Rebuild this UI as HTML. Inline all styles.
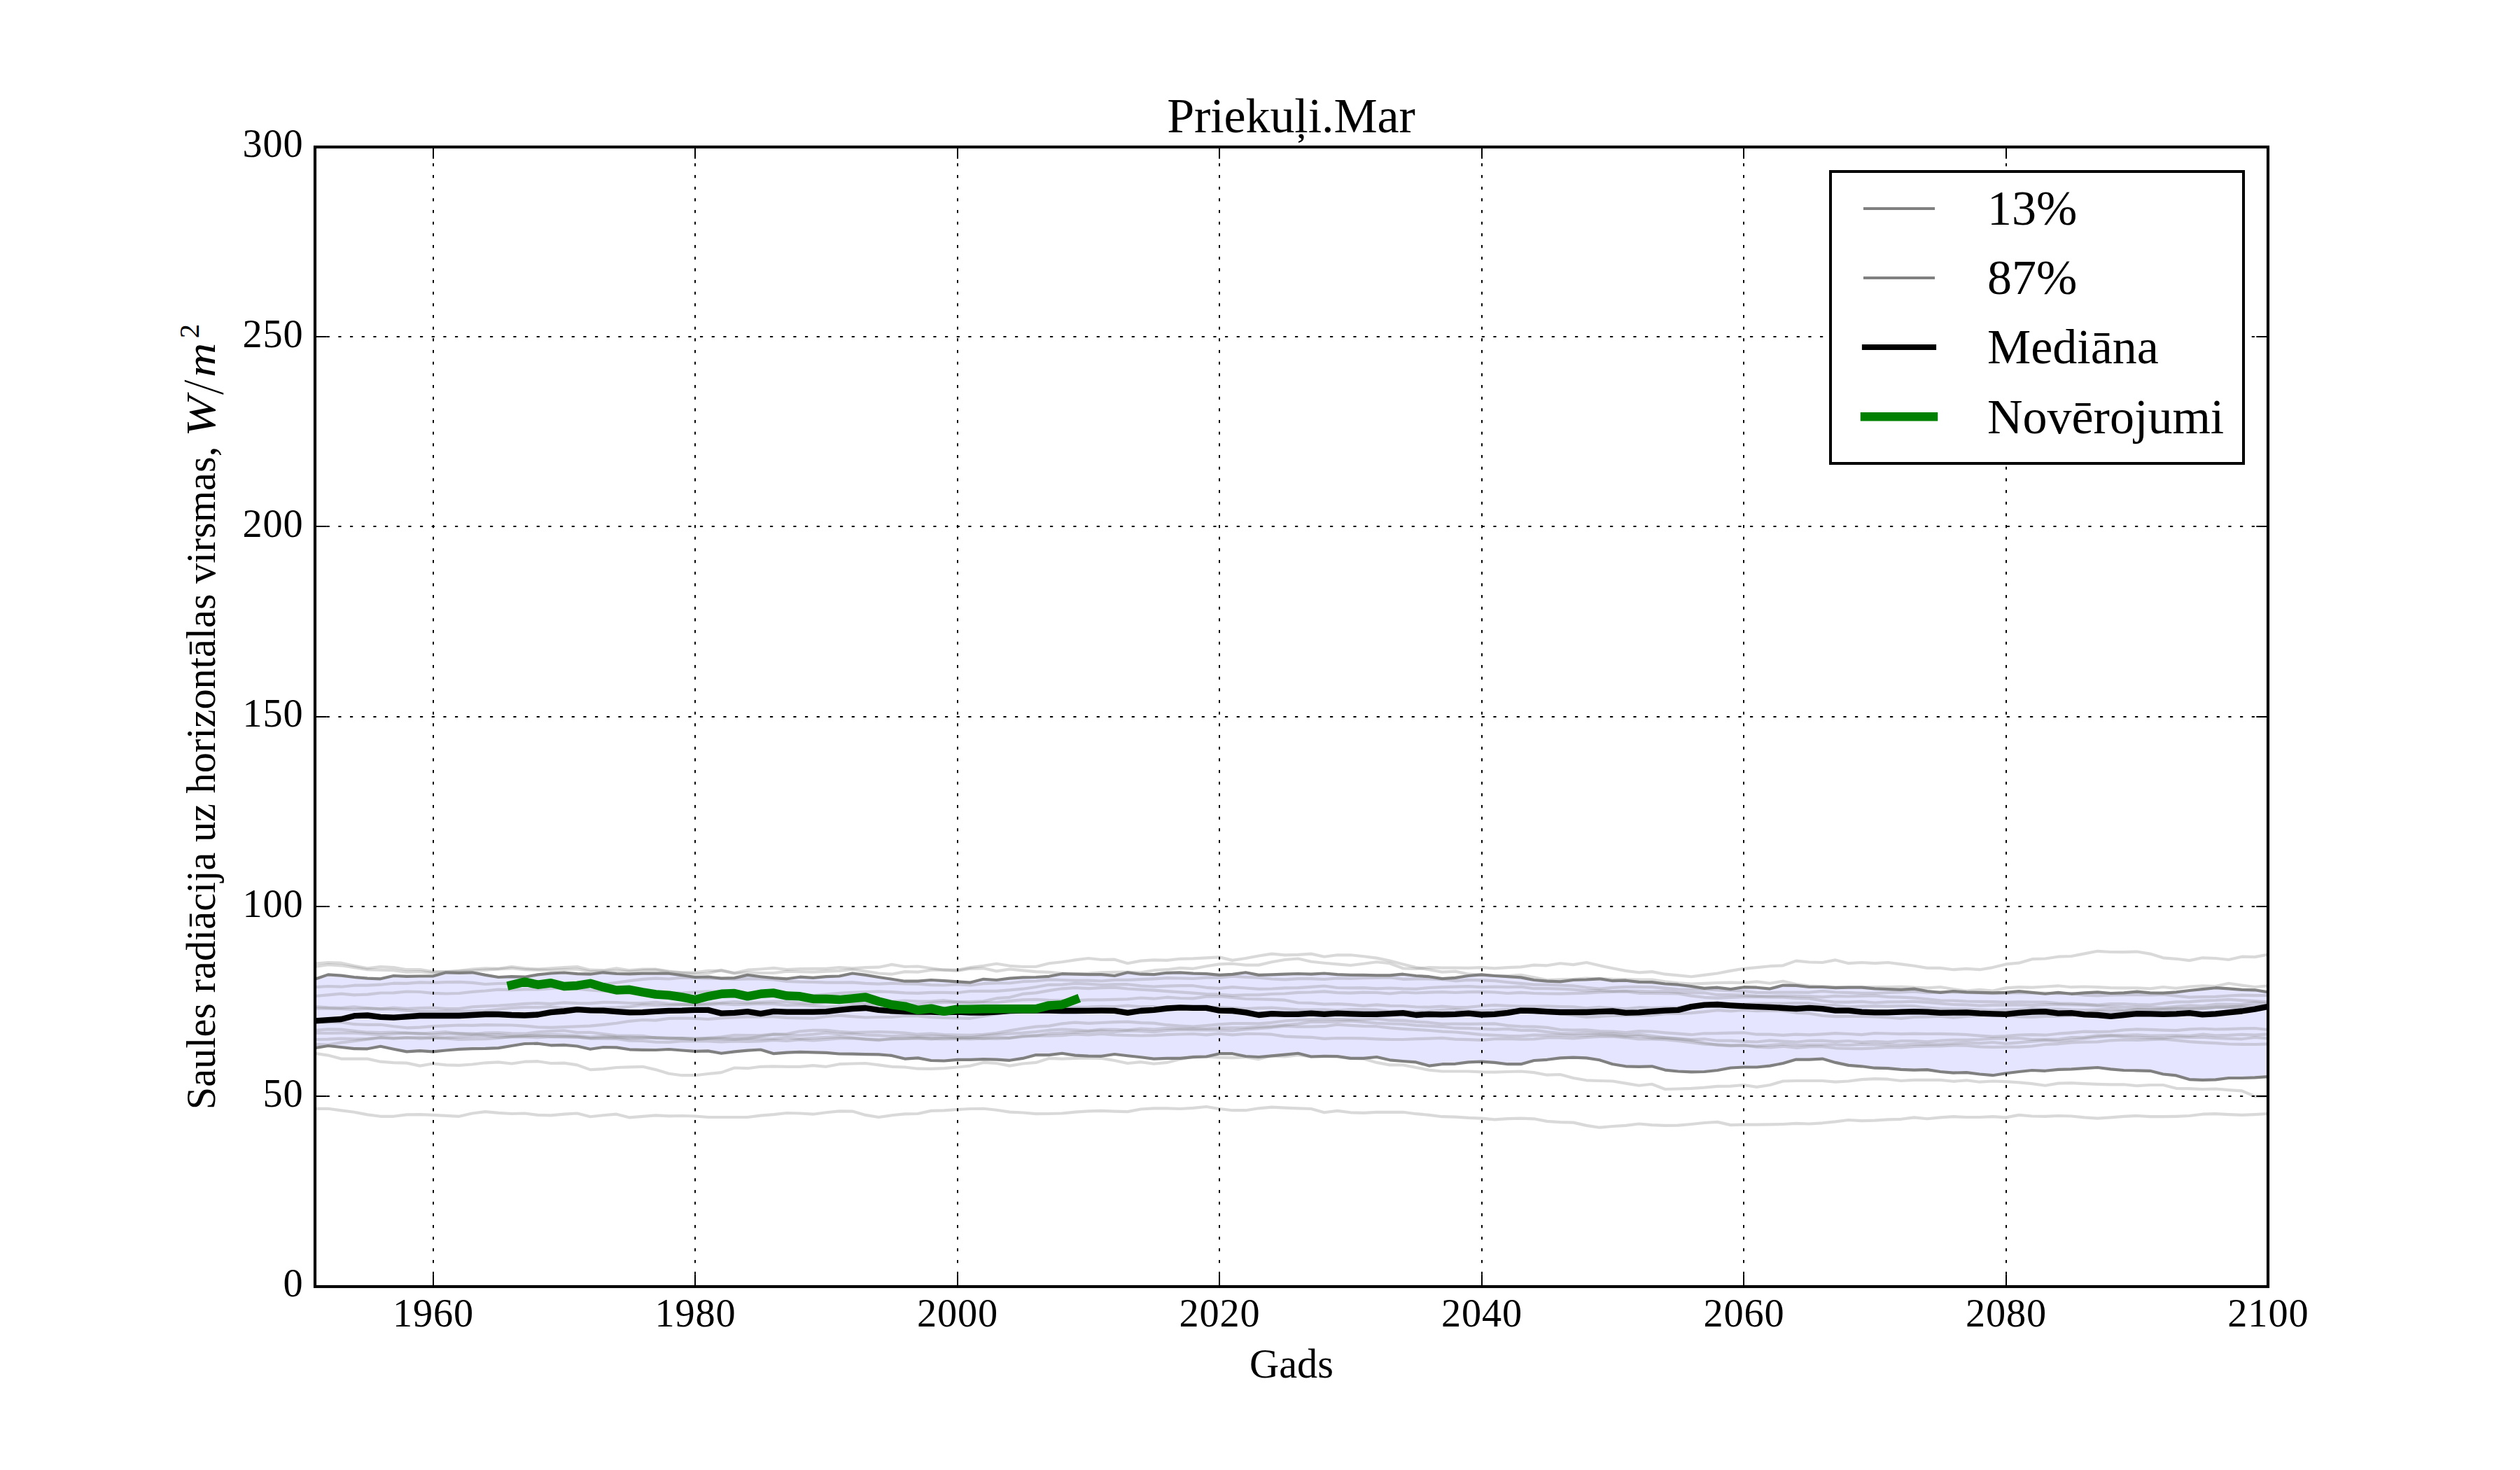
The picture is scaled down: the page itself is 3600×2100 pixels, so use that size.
<!DOCTYPE html><html><head><meta charset="utf-8"><title>Priekuļi.Mar</title>
<style>html,body{margin:0;padding:0;background:#fff}svg{display:block}text{font-family:"Liberation Serif",serif;fill:#000}</style></head><body>
<svg width="3600" height="2100" viewBox="0 0 3600 2100">
<rect width="3600" height="2100" fill="#fff"/>
<defs><clipPath id="ax"><rect x="450" y="210" width="2790" height="1627.5"/></clipPath></defs>
<g clip-path="url(#ax)" fill="none" stroke-linejoin="round">
<path d="M450.0 1398.8 L468.7 1392.4 L487.4 1393.6 L506.2 1396.0 L524.9 1397.6 L543.6 1398.3 L562.3 1394.0 L581.1 1394.8 L599.8 1394.5 L618.5 1394.5 L637.2 1389.3 L656.0 1389.8 L674.7 1389.3 L693.4 1392.9 L712.1 1396.0 L730.9 1395.2 L749.6 1395.7 L768.3 1392.4 L787.0 1390.5 L805.8 1389.5 L824.5 1391.2 L843.2 1391.7 L861.9 1389.3 L880.7 1391.0 L899.4 1391.4 L918.1 1390.7 L936.8 1390.7 L955.6 1390.7 L974.3 1393.3 L993.0 1396.0 L1011.7 1395.5 L1030.5 1397.6 L1049.2 1397.1 L1067.9 1392.9 L1086.6 1395.2 L1105.4 1397.1 L1124.1 1398.3 L1142.8 1395.7 L1161.5 1396.9 L1180.3 1395.2 L1199.0 1394.5 L1217.7 1390.5 L1236.4 1392.9 L1255.2 1396.0 L1273.9 1398.8 L1292.6 1401.7 L1311.3 1401.7 L1330.1 1400.0 L1348.8 1401.2 L1367.5 1402.4 L1386.2 1403.6 L1405.0 1398.8 L1423.7 1400.0 L1442.4 1397.6 L1461.1 1396.4 L1479.9 1396.0 L1498.6 1394.8 L1517.3 1391.2 L1536.0 1391.7 L1554.8 1392.1 L1573.5 1392.1 L1592.2 1394.0 L1610.9 1389.3 L1629.7 1391.7 L1648.4 1392.1 L1667.1 1389.8 L1685.8 1389.3 L1704.6 1390.7 L1723.3 1391.2 L1742.0 1392.9 L1760.7 1391.9 L1779.5 1389.3 L1798.2 1392.9 L1816.9 1392.4 L1835.6 1391.7 L1854.4 1391.0 L1873.1 1391.7 L1891.8 1390.5 L1910.5 1392.1 L1929.3 1392.9 L1948.0 1392.9 L1966.7 1393.3 L1985.4 1393.3 L2004.2 1391.7 L2022.9 1394.0 L2041.6 1395.2 L2060.3 1398.1 L2079.1 1396.9 L2097.8 1394.0 L2116.5 1392.4 L2135.2 1394.0 L2154.0 1395.2 L2172.7 1396.4 L2191.4 1400.0 L2210.1 1401.7 L2228.9 1402.4 L2247.6 1400.0 L2266.3 1399.5 L2285.0 1398.3 L2303.8 1401.2 L2322.5 1400.7 L2341.2 1402.9 L2359.9 1403.1 L2378.7 1405.5 L2397.4 1406.7 L2416.1 1409.0 L2434.8 1411.9 L2453.6 1410.7 L2472.3 1413.1 L2491.0 1410.2 L2509.7 1410.7 L2528.5 1412.6 L2547.2 1407.6 L2565.9 1407.9 L2584.6 1410.0 L2603.4 1410.0 L2622.1 1411.2 L2640.8 1410.7 L2659.5 1410.7 L2678.3 1412.4 L2697.0 1413.1 L2715.7 1413.8 L2734.4 1412.6 L2753.2 1416.0 L2771.9 1417.9 L2790.6 1416.0 L2809.3 1417.4 L2828.1 1417.9 L2846.8 1418.3 L2865.5 1417.9 L2884.2 1416.2 L2903.0 1417.9 L2921.7 1419.8 L2940.4 1417.9 L2959.1 1419.8 L2977.9 1418.3 L2996.6 1417.4 L3015.3 1419.0 L3034.0 1418.3 L3052.8 1416.7 L3071.5 1418.3 L3090.2 1418.6 L3108.9 1417.4 L3127.7 1415.0 L3146.4 1413.1 L3165.1 1411.2 L3183.8 1412.4 L3202.6 1413.8 L3221.3 1414.3 L3240.0 1417.4 L3240.0 1538.1 L3221.3 1539.3 L3202.6 1540.0 L3183.8 1540.0 L3165.1 1542.4 L3146.4 1542.9 L3127.7 1542.1 L3108.9 1536.4 L3090.2 1534.5 L3071.5 1529.8 L3052.8 1529.3 L3034.0 1529.0 L3015.3 1527.4 L2996.6 1525.0 L2977.9 1526.2 L2959.1 1527.4 L2940.4 1527.9 L2921.7 1529.8 L2903.0 1529.0 L2884.2 1531.0 L2865.5 1533.3 L2846.8 1536.2 L2828.1 1534.5 L2809.3 1532.1 L2790.6 1532.6 L2771.9 1531.0 L2753.2 1528.1 L2734.4 1528.6 L2715.7 1527.9 L2697.0 1526.2 L2678.3 1525.7 L2659.5 1523.3 L2640.8 1521.9 L2622.1 1517.9 L2603.4 1512.6 L2584.6 1513.6 L2565.9 1513.6 L2547.2 1519.0 L2528.5 1522.6 L2509.7 1524.5 L2491.0 1524.5 L2472.3 1525.5 L2453.6 1529.0 L2434.8 1531.0 L2416.1 1531.4 L2397.4 1530.5 L2378.7 1528.6 L2359.9 1523.3 L2341.2 1523.8 L2322.5 1523.3 L2303.8 1520.2 L2285.0 1514.3 L2266.3 1511.4 L2247.6 1510.7 L2228.9 1511.4 L2210.1 1513.8 L2191.4 1515.0 L2172.7 1520.2 L2154.0 1520.2 L2135.2 1517.9 L2116.5 1516.7 L2097.8 1517.4 L2079.1 1519.8 L2060.3 1520.2 L2041.6 1522.6 L2022.9 1517.4 L2004.2 1516.0 L1985.4 1514.3 L1966.7 1510.0 L1948.0 1511.9 L1929.3 1511.9 L1910.5 1509.0 L1891.8 1508.8 L1873.1 1509.5 L1854.4 1504.8 L1835.6 1506.7 L1816.9 1508.3 L1798.2 1510.0 L1779.5 1509.0 L1760.7 1505.2 L1742.0 1505.2 L1723.3 1509.5 L1704.6 1510.2 L1685.8 1511.9 L1667.1 1511.9 L1648.4 1512.6 L1629.7 1510.2 L1610.9 1508.3 L1592.2 1506.0 L1573.5 1508.8 L1554.8 1508.6 L1536.0 1507.6 L1517.3 1504.8 L1498.6 1507.1 L1479.9 1507.1 L1461.1 1511.9 L1442.4 1514.8 L1423.7 1513.6 L1405.0 1513.1 L1386.2 1513.8 L1367.5 1513.8 L1348.8 1515.5 L1330.1 1515.0 L1311.3 1511.4 L1292.6 1512.6 L1273.9 1507.9 L1255.2 1506.4 L1236.4 1506.2 L1217.7 1505.7 L1199.0 1505.5 L1180.3 1503.8 L1161.5 1503.3 L1142.8 1502.9 L1124.1 1503.6 L1105.4 1505.2 L1086.6 1499.5 L1067.9 1500.7 L1049.2 1502.4 L1030.5 1504.8 L1011.7 1501.4 L993.0 1501.9 L974.3 1500.5 L955.6 1499.0 L936.8 1500.0 L918.1 1499.8 L899.4 1499.3 L880.7 1496.4 L861.9 1496.0 L843.2 1498.8 L824.5 1494.5 L805.8 1492.9 L787.0 1493.3 L768.3 1490.7 L749.6 1491.0 L730.9 1494.0 L712.1 1497.1 L693.4 1497.9 L674.7 1498.1 L656.0 1498.8 L637.2 1500.5 L618.5 1502.4 L599.8 1501.2 L581.1 1502.4 L562.3 1498.8 L543.6 1494.8 L524.9 1498.3 L506.2 1498.1 L487.4 1496.0 L468.7 1494.0 L450.0 1497.1Z" fill="#0000ff" fill-opacity="0.1" stroke="none"/>
<g stroke="#808080" stroke-opacity="0.3" stroke-width="4.17" stroke-linecap="square">
<path d="M450.0 1376.7 L468.7 1375.0 L487.4 1375.7 L506.2 1379.8 L524.9 1383.3 L543.6 1381.0 L562.3 1382.1 L581.1 1385.2 L599.8 1385.0 L618.5 1388.1 L637.2 1388.1 L656.0 1386.9 L674.7 1384.5 L693.4 1383.3 L712.1 1383.8 L730.9 1381.0 L749.6 1383.3 L768.3 1384.5 L787.0 1383.3 L805.8 1382.1 L824.5 1381.0 L843.2 1385.7 L861.9 1386.2 L880.7 1383.3 L899.4 1386.2 L918.1 1384.5 L936.8 1384.5 L955.6 1387.6 L974.3 1389.3 L993.0 1389.3 L1011.7 1386.9 L1030.5 1386.9 L1049.2 1390.0 L1067.9 1385.7 L1086.6 1384.5 L1105.4 1382.9 L1124.1 1385.0 L1142.8 1384.0 L1161.5 1383.8 L1180.3 1383.8 L1199.0 1382.1 L1217.7 1383.3 L1236.4 1382.1 L1255.2 1381.7 L1273.9 1377.9 L1292.6 1381.0 L1311.3 1380.5 L1330.1 1383.3 L1348.8 1385.7 L1367.5 1385.7 L1386.2 1382.1 L1405.0 1379.8 L1423.7 1376.7 L1442.4 1379.8 L1461.1 1381.0 L1479.9 1381.0 L1498.6 1376.2 L1517.3 1374.3 L1536.0 1371.4 L1554.8 1369.0 L1573.5 1371.0 L1592.2 1370.7 L1610.9 1376.2 L1629.7 1372.6 L1648.4 1371.4 L1667.1 1371.9 L1685.8 1369.8 L1704.6 1369.3 L1723.3 1368.3 L1742.0 1367.4 L1760.7 1371.9 L1779.5 1369.0 L1798.2 1365.5 L1816.9 1362.6 L1835.6 1364.3 L1854.4 1363.8 L1873.1 1362.6 L1891.8 1366.7 L1910.5 1364.3 L1929.3 1364.3 L1948.0 1366.2 L1966.7 1368.6 L1985.4 1372.6 L2004.2 1377.4 L2022.9 1382.1 L2041.6 1385.2 L2060.3 1388.6 L2079.1 1387.6 L2097.8 1391.7 L2116.5 1392.9 L2135.2 1394.0 L2154.0 1394.0 L2172.7 1392.9 L2191.4 1396.4 L2210.1 1400.0 L2228.9 1399.3 L2247.6 1398.8 L2266.3 1397.6 L2285.0 1398.1 L2303.8 1398.8 L2322.5 1399.0 L2341.2 1399.5 L2359.9 1399.5 L2378.7 1402.4 L2397.4 1404.3 L2416.1 1405.5 L2434.8 1404.8 L2453.6 1404.0 L2472.3 1403.6 L2491.0 1404.0 L2509.7 1402.4 L2528.5 1404.8 L2547.2 1401.7 L2565.9 1406.0 L2584.6 1408.3 L2603.4 1409.0 L2622.1 1410.0 L2640.8 1410.2 L2659.5 1410.0 L2678.3 1410.2 L2697.0 1410.0 L2715.7 1409.5 L2734.4 1410.7 L2753.2 1411.4 L2771.9 1410.0 L2790.6 1413.1 L2809.3 1415.5 L2828.1 1413.8 L2846.8 1415.5 L2865.5 1411.4 L2884.2 1410.2 L2903.0 1410.7 L2921.7 1409.5 L2940.4 1408.3 L2959.1 1410.2 L2977.9 1409.5 L2996.6 1410.2 L3015.3 1411.2 L3034.0 1411.4 L3052.8 1411.4 L3071.5 1412.4 L3090.2 1410.0 L3108.9 1411.9 L3127.7 1409.5 L3146.4 1408.3 L3165.1 1409.0 L3183.8 1404.8 L3202.6 1407.6 L3221.3 1410.0 L3240.0 1408.3"/>
<path d="M450.0 1381.0 L468.7 1378.1 L487.4 1379.3 L506.2 1382.1 L524.9 1385.2 L543.6 1385.7 L562.3 1386.2 L581.1 1388.6 L599.8 1388.1 L618.5 1389.8 L637.2 1388.6 L656.0 1387.6 L674.7 1386.9 L693.4 1385.7 L712.1 1384.5 L730.9 1383.3 L749.6 1385.2 L768.3 1385.7 L787.0 1386.2 L805.8 1385.2 L824.5 1384.5 L843.2 1388.1 L861.9 1387.6 L880.7 1386.9 L899.4 1388.1 L918.1 1386.2 L936.8 1385.7 L955.6 1388.6 L974.3 1390.0 L993.0 1391.7 L1011.7 1390.5 L1030.5 1385.7 L1049.2 1390.5 L1067.9 1389.3 L1086.6 1390.0 L1105.4 1390.0 L1124.1 1387.6 L1142.8 1388.1 L1161.5 1388.6 L1180.3 1387.6 L1199.0 1386.9 L1217.7 1385.0 L1236.4 1387.6 L1255.2 1390.5 L1273.9 1391.7 L1292.6 1388.1 L1311.3 1388.6 L1330.1 1385.7 L1348.8 1385.7 L1367.5 1386.9 L1386.2 1383.8 L1405.0 1383.3 L1423.7 1387.4 L1442.4 1384.5 L1461.1 1386.4 L1479.9 1388.1 L1498.6 1388.8 L1517.3 1390.5 L1536.0 1391.2 L1554.8 1390.5 L1573.5 1389.3 L1592.2 1388.8 L1610.9 1388.6 L1629.7 1389.3 L1648.4 1386.2 L1667.1 1385.2 L1685.8 1382.9 L1704.6 1383.8 L1723.3 1380.2 L1742.0 1377.4 L1760.7 1376.7 L1779.5 1378.6 L1798.2 1378.6 L1816.9 1374.3 L1835.6 1371.0 L1854.4 1369.5 L1873.1 1373.8 L1891.8 1375.7 L1910.5 1377.4 L1929.3 1379.0 L1948.0 1376.7 L1966.7 1374.3 L1985.4 1376.2 L2004.2 1383.3 L2022.9 1383.8 L2041.6 1382.1 L2060.3 1382.6 L2079.1 1382.6 L2097.8 1382.9 L2116.5 1382.1 L2135.2 1383.3 L2154.0 1382.1 L2172.7 1381.4 L2191.4 1378.6 L2210.1 1379.3 L2228.9 1376.2 L2247.6 1378.1 L2266.3 1375.0 L2285.0 1379.3 L2303.8 1383.3 L2322.5 1386.9 L2341.2 1389.3 L2359.9 1388.1 L2378.7 1391.7 L2397.4 1393.3 L2416.1 1395.2 L2434.8 1392.9 L2453.6 1390.5 L2472.3 1386.9 L2491.0 1383.8 L2509.7 1382.1 L2528.5 1380.2 L2547.2 1379.3 L2565.9 1372.6 L2584.6 1374.5 L2603.4 1375.0 L2622.1 1371.4 L2640.8 1376.2 L2659.5 1375.0 L2678.3 1376.2 L2697.0 1375.0 L2715.7 1377.4 L2734.4 1379.8 L2753.2 1382.9 L2771.9 1382.9 L2790.6 1385.2 L2809.3 1383.8 L2828.1 1385.2 L2846.8 1382.1 L2865.5 1377.4 L2884.2 1375.7 L2903.0 1370.2 L2921.7 1369.5 L2940.4 1366.7 L2959.1 1366.0 L2977.9 1362.4 L2996.6 1358.8 L3015.3 1360.0 L3034.0 1360.2 L3052.8 1359.5 L3071.5 1362.6 L3090.2 1368.3 L3108.9 1369.8 L3127.7 1372.1 L3146.4 1368.3 L3165.1 1369.0 L3183.8 1371.0 L3202.6 1366.7 L3221.3 1367.1 L3240.0 1363.6"/>
<path d="M450.0 1504.8 L468.7 1507.6 L487.4 1512.6 L506.2 1512.6 L524.9 1512.6 L543.6 1516.7 L562.3 1518.1 L581.1 1518.6 L599.8 1522.6 L618.5 1519.5 L637.2 1521.4 L656.0 1521.9 L674.7 1520.5 L693.4 1518.3 L712.1 1517.4 L730.9 1519.5 L749.6 1516.7 L768.3 1516.2 L787.0 1519.0 L805.8 1518.6 L824.5 1521.4 L843.2 1528.1 L861.9 1527.1 L880.7 1525.0 L899.4 1524.3 L918.1 1523.8 L936.8 1528.1 L955.6 1533.8 L974.3 1536.2 L993.0 1536.2 L1011.7 1534.0 L1030.5 1532.1 L1049.2 1525.5 L1067.9 1526.2 L1086.6 1523.8 L1105.4 1523.3 L1124.1 1523.8 L1142.8 1523.8 L1161.5 1522.1 L1180.3 1523.8 L1199.0 1520.2 L1217.7 1519.5 L1236.4 1519.0 L1255.2 1521.4 L1273.9 1523.8 L1292.6 1524.5 L1311.3 1526.7 L1330.1 1526.9 L1348.8 1526.2 L1367.5 1524.5 L1386.2 1522.6 L1405.0 1517.9 L1423.7 1519.0 L1442.4 1522.6 L1461.1 1519.5 L1479.9 1517.9 L1498.6 1511.9 L1517.3 1512.6 L1536.0 1511.9 L1554.8 1511.4 L1573.5 1511.9 L1592.2 1515.0 L1610.9 1519.0 L1629.7 1517.1 L1648.4 1519.8 L1667.1 1517.9 L1685.8 1513.1 L1704.6 1509.5 L1723.3 1509.5 L1742.0 1510.7 L1760.7 1511.2 L1779.5 1510.2 L1798.2 1513.1 L1816.9 1508.3 L1835.6 1509.5 L1854.4 1507.1 L1873.1 1509.5 L1891.8 1509.0 L1910.5 1510.0 L1929.3 1511.9 L1948.0 1512.6 L1966.7 1517.9 L1985.4 1521.4 L2004.2 1521.4 L2022.9 1525.0 L2041.6 1528.6 L2060.3 1530.5 L2079.1 1530.5 L2097.8 1530.5 L2116.5 1531.4 L2135.2 1531.7 L2154.0 1531.0 L2172.7 1530.5 L2191.4 1532.1 L2210.1 1535.7 L2228.9 1535.0 L2247.6 1540.0 L2266.3 1543.3 L2285.0 1544.0 L2303.8 1544.5 L2322.5 1547.6 L2341.2 1550.7 L2359.9 1548.8 L2378.7 1556.0 L2397.4 1555.5 L2416.1 1554.8 L2434.8 1553.6 L2453.6 1551.9 L2472.3 1551.7 L2491.0 1550.0 L2509.7 1552.9 L2528.5 1550.0 L2547.2 1544.5 L2565.9 1544.0 L2584.6 1544.0 L2603.4 1544.0 L2622.1 1545.7 L2640.8 1544.5 L2659.5 1542.1 L2678.3 1541.2 L2697.0 1541.7 L2715.7 1544.0 L2734.4 1542.9 L2753.2 1542.9 L2771.9 1542.9 L2790.6 1544.8 L2809.3 1543.3 L2828.1 1545.7 L2846.8 1544.5 L2865.5 1545.2 L2884.2 1546.4 L2903.0 1548.1 L2921.7 1550.7 L2940.4 1547.6 L2959.1 1547.1 L2977.9 1548.1 L2996.6 1548.8 L3015.3 1549.3 L3034.0 1549.3 L3052.8 1551.2 L3071.5 1550.0 L3090.2 1550.0 L3108.9 1554.8 L3127.7 1555.2 L3146.4 1556.0 L3165.1 1555.5 L3183.8 1557.1 L3202.6 1558.3 L3221.3 1566.2 L3240.0 1566.2"/>
<path d="M450.0 1583.8 L468.7 1583.8 L487.4 1586.4 L506.2 1588.8 L524.9 1592.4 L543.6 1594.8 L562.3 1594.8 L581.1 1592.4 L599.8 1592.1 L618.5 1592.9 L637.2 1593.8 L656.0 1594.8 L674.7 1590.5 L693.4 1588.1 L712.1 1589.8 L730.9 1591.0 L749.6 1590.5 L768.3 1592.9 L787.0 1593.3 L805.8 1591.7 L824.5 1590.5 L843.2 1595.2 L861.9 1593.3 L880.7 1591.7 L899.4 1596.4 L918.1 1594.8 L936.8 1593.3 L955.6 1594.3 L974.3 1594.0 L993.0 1594.5 L1011.7 1596.0 L1030.5 1596.0 L1049.2 1596.0 L1067.9 1596.0 L1086.6 1593.6 L1105.4 1592.1 L1124.1 1590.0 L1142.8 1590.5 L1161.5 1591.7 L1180.3 1589.3 L1199.0 1587.4 L1217.7 1587.6 L1236.4 1592.9 L1255.2 1596.0 L1273.9 1593.3 L1292.6 1591.4 L1311.3 1591.0 L1330.1 1586.9 L1348.8 1586.4 L1367.5 1585.0 L1386.2 1584.0 L1405.0 1583.8 L1423.7 1585.7 L1442.4 1588.6 L1461.1 1589.5 L1479.9 1591.2 L1498.6 1591.0 L1517.3 1590.5 L1536.0 1588.6 L1554.8 1587.4 L1573.5 1586.9 L1592.2 1587.6 L1610.9 1588.1 L1629.7 1584.5 L1648.4 1583.3 L1667.1 1583.3 L1685.8 1584.0 L1704.6 1582.9 L1723.3 1581.0 L1742.0 1584.0 L1760.7 1586.2 L1779.5 1586.2 L1798.2 1583.3 L1816.9 1581.7 L1835.6 1582.6 L1854.4 1583.3 L1873.1 1584.0 L1891.8 1589.3 L1910.5 1586.9 L1929.3 1589.3 L1948.0 1589.8 L1966.7 1588.8 L1985.4 1588.8 L2004.2 1588.8 L2022.9 1591.2 L2041.6 1592.9 L2060.3 1595.2 L2079.1 1595.7 L2097.8 1596.9 L2116.5 1597.6 L2135.2 1599.3 L2154.0 1598.1 L2172.7 1597.6 L2191.4 1598.3 L2210.1 1601.9 L2228.9 1603.1 L2247.6 1603.6 L2266.3 1607.9 L2285.0 1610.7 L2303.8 1609.0 L2322.5 1607.9 L2341.2 1605.5 L2359.9 1607.1 L2378.7 1607.9 L2397.4 1607.6 L2416.1 1606.0 L2434.8 1604.0 L2453.6 1602.9 L2472.3 1607.1 L2491.0 1606.7 L2509.7 1606.7 L2528.5 1606.4 L2547.2 1606.0 L2565.9 1604.8 L2584.6 1605.5 L2603.4 1604.3 L2622.1 1602.4 L2640.8 1600.0 L2659.5 1601.2 L2678.3 1600.7 L2697.0 1599.3 L2715.7 1598.8 L2734.4 1596.4 L2753.2 1598.3 L2771.9 1596.4 L2790.6 1595.2 L2809.3 1596.0 L2828.1 1596.0 L2846.8 1595.2 L2865.5 1596.4 L2884.2 1592.9 L2903.0 1594.5 L2921.7 1594.8 L2940.4 1594.0 L2959.1 1594.5 L2977.9 1596.4 L2996.6 1597.6 L3015.3 1596.4 L3034.0 1594.8 L3052.8 1594.0 L3071.5 1595.2 L3090.2 1595.2 L3108.9 1594.8 L3127.7 1594.0 L3146.4 1591.7 L3165.1 1591.2 L3183.8 1592.1 L3202.6 1592.9 L3221.3 1592.1 L3240.0 1591.0"/>
<path d="M450.0 1410.1 L468.7 1409.0 L487.4 1409.7 L506.2 1407.7 L524.9 1407.7 L543.6 1406.7 L562.3 1404.7 L581.1 1404.9 L599.8 1403.4 L618.5 1403.9 L637.2 1403.1 L656.0 1402.8 L674.7 1403.9 L693.4 1406.0 L712.1 1405.0 L730.9 1404.9 L749.6 1406.2 L768.3 1408.1 L787.0 1408.0 L805.8 1407.4 L824.5 1408.6 L843.2 1405.8 L861.9 1406.1 L880.7 1403.7 L899.4 1401.1 L918.1 1398.9 L936.8 1397.7 L955.6 1398.5 L974.3 1396.7 L993.0 1397.2 L1011.7 1398.0 L1030.5 1397.9 L1049.2 1398.9 L1067.9 1398.4 L1086.6 1398.5 L1105.4 1399.4 L1124.1 1401.9 L1142.8 1402.7 L1161.5 1402.8 L1180.3 1403.7 L1199.0 1403.7 L1217.7 1403.3 L1236.4 1404.9 L1255.2 1405.6 L1273.9 1404.7 L1292.6 1405.4 L1311.3 1405.7 L1330.1 1407.1 L1348.8 1407.5 L1367.5 1406.2 L1386.2 1407.5 L1405.0 1405.2 L1423.7 1404.3 L1442.4 1404.5 L1461.1 1402.2 L1479.9 1401.5 L1498.6 1399.4 L1517.3 1400.0 L1536.0 1400.7 L1554.8 1400.6 L1573.5 1401.5 L1592.2 1399.9 L1610.9 1399.9 L1629.7 1399.2 L1648.4 1398.4 L1667.1 1397.2 L1685.8 1397.5 L1704.6 1398.0 L1723.3 1396.6 L1742.0 1396.6 L1760.7 1394.6 L1779.5 1395.8 L1798.2 1396.6 L1816.9 1398.5 L1835.6 1399.3 L1854.4 1398.2 L1873.1 1398.1 L1891.8 1399.0 L1910.5 1397.5 L1929.3 1397.9 L1948.0 1397.2 L1966.7 1396.8 L1985.4 1396.5 L2004.2 1398.8 L2022.9 1398.3 L2041.6 1398.5 L2060.3 1399.2 L2079.1 1401.3 L2097.8 1399.9 L2116.5 1400.3 L2135.2 1401.1 L2154.0 1403.2 L2172.7 1404.9 L2191.4 1406.7 L2210.1 1406.6 L2228.9 1407.5 L2247.6 1408.3 L2266.3 1410.8 L2285.0 1412.6 L2303.8 1410.8 L2322.5 1409.9 L2341.2 1409.8 L2359.9 1410.2 L2378.7 1411.6 L2397.4 1413.3 L2416.1 1413.6 L2434.8 1413.2 L2453.6 1414.5 L2472.3 1415.1 L2491.0 1416.0 L2509.7 1417.8 L2528.5 1418.0 L2547.2 1417.5 L2565.9 1417.6 L2584.6 1417.8 L2603.4 1415.9 L2622.1 1417.5 L2640.8 1418.1 L2659.5 1418.8 L2678.3 1418.9 L2697.0 1417.8 L2715.7 1417.4 L2734.4 1416.5 L2753.2 1418.1 L2771.9 1417.4 L2790.6 1417.4 L2809.3 1418.0 L2828.1 1418.4 L2846.8 1419.2 L2865.5 1418.7 L2884.2 1418.1 L2903.0 1418.4 L2921.7 1418.5 L2940.4 1419.5 L2959.1 1419.0 L2977.9 1421.6 L2996.6 1422.4 L3015.3 1421.4 L3034.0 1421.1 L3052.8 1421.2 L3071.5 1421.3 L3090.2 1420.7 L3108.9 1422.8 L3127.7 1424.6 L3146.4 1424.1 L3165.1 1423.9 L3183.8 1422.5 L3202.6 1421.7 L3221.3 1422.1 L3240.0 1422.0"/>
<path d="M450.0 1423.0 L468.7 1421.3 L487.4 1419.6 L506.2 1421.3 L524.9 1420.6 L543.6 1418.5 L562.3 1418.4 L581.1 1416.5 L599.8 1417.0 L618.5 1418.8 L637.2 1419.5 L656.0 1419.0 L674.7 1416.9 L693.4 1415.5 L712.1 1413.6 L730.9 1414.1 L749.6 1413.3 L768.3 1413.5 L787.0 1412.1 L805.8 1411.0 L824.5 1412.6 L843.2 1414.5 L861.9 1415.7 L880.7 1416.8 L899.4 1418.0 L918.1 1418.9 L936.8 1418.0 L955.6 1418.7 L974.3 1418.6 L993.0 1417.3 L1011.7 1416.4 L1030.5 1416.7 L1049.2 1416.9 L1067.9 1418.4 L1086.6 1420.2 L1105.4 1419.5 L1124.1 1420.8 L1142.8 1421.7 L1161.5 1422.2 L1180.3 1420.5 L1199.0 1418.9 L1217.7 1417.9 L1236.4 1417.0 L1255.2 1416.3 L1273.9 1417.1 L1292.6 1418.4 L1311.3 1418.8 L1330.1 1417.8 L1348.8 1417.8 L1367.5 1418.3 L1386.2 1416.0 L1405.0 1415.8 L1423.7 1415.8 L1442.4 1414.4 L1461.1 1412.7 L1479.9 1410.0 L1498.6 1406.8 L1517.3 1406.6 L1536.0 1404.9 L1554.8 1405.7 L1573.5 1407.0 L1592.2 1406.3 L1610.9 1406.2 L1629.7 1408.4 L1648.4 1409.5 L1667.1 1408.6 L1685.8 1408.2 L1704.6 1408.2 L1723.3 1410.8 L1742.0 1411.9 L1760.7 1410.2 L1779.5 1411.5 L1798.2 1412.8 L1816.9 1412.5 L1835.6 1411.3 L1854.4 1411.2 L1873.1 1409.8 L1891.8 1408.5 L1910.5 1411.0 L1929.3 1411.4 L1948.0 1411.2 L1966.7 1412.4 L1985.4 1411.5 L2004.2 1412.4 L2022.9 1412.8 L2041.6 1411.0 L2060.3 1410.1 L2079.1 1409.6 L2097.8 1409.2 L2116.5 1410.1 L2135.2 1409.6 L2154.0 1410.1 L2172.7 1409.6 L2191.4 1412.2 L2210.1 1412.2 L2228.9 1412.7 L2247.6 1413.6 L2266.3 1415.3 L2285.0 1414.8 L2303.8 1416.0 L2322.5 1415.5 L2341.2 1415.8 L2359.9 1416.5 L2378.7 1415.9 L2397.4 1417.5 L2416.1 1418.1 L2434.8 1418.3 L2453.6 1421.2 L2472.3 1421.0 L2491.0 1421.7 L2509.7 1422.8 L2528.5 1423.0 L2547.2 1422.5 L2565.9 1422.8 L2584.6 1423.3 L2603.4 1424.4 L2622.1 1422.8 L2640.8 1423.5 L2659.5 1422.8 L2678.3 1422.5 L2697.0 1424.1 L2715.7 1424.6 L2734.4 1425.5 L2753.2 1427.3 L2771.9 1429.4 L2790.6 1429.5 L2809.3 1430.5 L2828.1 1430.9 L2846.8 1431.2 L2865.5 1431.8 L2884.2 1431.4 L2903.0 1431.5 L2921.7 1431.6 L2940.4 1433.3 L2959.1 1433.7 L2977.9 1434.7 L2996.6 1435.6 L3015.3 1434.0 L3034.0 1434.0 L3052.8 1435.2 L3071.5 1435.5 L3090.2 1433.2 L3108.9 1431.4 L3127.7 1431.2 L3146.4 1429.6 L3165.1 1429.0 L3183.8 1427.9 L3202.6 1429.1 L3221.3 1430.2 L3240.0 1431.3"/>
<path d="M450.0 1438.1 L468.7 1439.3 L487.4 1439.8 L506.2 1438.4 L524.9 1440.0 L543.6 1441.3 L562.3 1439.6 L581.1 1441.0 L599.8 1440.0 L618.5 1439.6 L637.2 1441.0 L656.0 1441.0 L674.7 1438.4 L693.4 1437.4 L712.1 1436.7 L730.9 1435.3 L749.6 1433.8 L768.3 1433.1 L787.0 1434.1 L805.8 1432.4 L824.5 1433.2 L843.2 1433.3 L861.9 1431.9 L880.7 1432.0 L899.4 1433.0 L918.1 1433.2 L936.8 1431.8 L955.6 1434.0 L974.3 1434.7 L993.0 1435.7 L1011.7 1433.4 L1030.5 1432.5 L1049.2 1431.1 L1067.9 1432.7 L1086.6 1431.8 L1105.4 1430.8 L1124.1 1431.1 L1142.8 1432.8 L1161.5 1433.6 L1180.3 1432.2 L1199.0 1431.0 L1217.7 1432.7 L1236.4 1432.6 L1255.2 1432.8 L1273.9 1430.8 L1292.6 1429.5 L1311.3 1430.7 L1330.1 1430.5 L1348.8 1429.2 L1367.5 1431.4 L1386.2 1431.1 L1405.0 1430.4 L1423.7 1426.2 L1442.4 1424.8 L1461.1 1419.9 L1479.9 1418.4 L1498.6 1415.1 L1517.3 1412.3 L1536.0 1411.2 L1554.8 1412.1 L1573.5 1411.1 L1592.2 1410.7 L1610.9 1412.5 L1629.7 1413.6 L1648.4 1414.6 L1667.1 1416.1 L1685.8 1417.3 L1704.6 1418.7 L1723.3 1420.1 L1742.0 1420.6 L1760.7 1422.2 L1779.5 1421.4 L1798.2 1421.3 L1816.9 1420.0 L1835.6 1419.5 L1854.4 1417.9 L1873.1 1417.5 L1891.8 1416.4 L1910.5 1418.1 L1929.3 1418.6 L1948.0 1417.7 L1966.7 1418.0 L1985.4 1419.5 L2004.2 1417.5 L2022.9 1418.5 L2041.6 1417.6 L2060.3 1417.2 L2079.1 1418.0 L2097.8 1417.1 L2116.5 1416.9 L2135.2 1417.5 L2154.0 1419.0 L2172.7 1417.9 L2191.4 1419.0 L2210.1 1419.5 L2228.9 1419.6 L2247.6 1419.1 L2266.3 1418.6 L2285.0 1417.4 L2303.8 1416.9 L2322.5 1416.4 L2341.2 1418.8 L2359.9 1419.0 L2378.7 1419.2 L2397.4 1419.5 L2416.1 1422.6 L2434.8 1424.8 L2453.6 1425.6 L2472.3 1424.8 L2491.0 1424.1 L2509.7 1423.9 L2528.5 1424.7 L2547.2 1424.6 L2565.9 1425.9 L2584.6 1426.5 L2603.4 1429.5 L2622.1 1431.7 L2640.8 1431.7 L2659.5 1430.8 L2678.3 1432.5 L2697.0 1431.4 L2715.7 1431.3 L2734.4 1430.6 L2753.2 1431.9 L2771.9 1433.5 L2790.6 1435.0 L2809.3 1435.3 L2828.1 1436.6 L2846.8 1435.8 L2865.5 1436.0 L2884.2 1435.5 L2903.0 1436.2 L2921.7 1435.4 L2940.4 1434.9 L2959.1 1435.5 L2977.9 1435.7 L2996.6 1436.9 L3015.3 1437.5 L3034.0 1438.6 L3052.8 1438.9 L3071.5 1439.2 L3090.2 1439.6 L3108.9 1437.9 L3127.7 1436.4 L3146.4 1437.3 L3165.1 1434.7 L3183.8 1434.9 L3202.6 1434.6 L3221.3 1432.4 L3240.0 1433.8"/>
<path d="M450.0 1440.6 L468.7 1440.6 L487.4 1441.2 L506.2 1442.1 L524.9 1440.7 L543.6 1441.4 L562.3 1442.0 L581.1 1443.6 L599.8 1444.5 L618.5 1445.0 L637.2 1444.3 L656.0 1444.9 L674.7 1444.3 L693.4 1443.9 L712.1 1441.9 L730.9 1439.8 L749.6 1438.9 L768.3 1439.0 L787.0 1438.2 L805.8 1440.2 L824.5 1440.4 L843.2 1440.3 L861.9 1439.9 L880.7 1439.4 L899.4 1438.1 L918.1 1435.3 L936.8 1436.0 L955.6 1436.0 L974.3 1435.2 L993.0 1435.0 L1011.7 1435.4 L1030.5 1433.8 L1049.2 1435.2 L1067.9 1434.6 L1086.6 1433.9 L1105.4 1434.2 L1124.1 1436.0 L1142.8 1435.5 L1161.5 1436.9 L1180.3 1438.5 L1199.0 1437.8 L1217.7 1436.7 L1236.4 1436.2 L1255.2 1436.3 L1273.9 1436.4 L1292.6 1435.7 L1311.3 1435.2 L1330.1 1433.0 L1348.8 1431.8 L1367.5 1431.6 L1386.2 1433.0 L1405.0 1432.1 L1423.7 1432.1 L1442.4 1429.9 L1461.1 1428.4 L1479.9 1427.9 L1498.6 1428.8 L1517.3 1429.2 L1536.0 1429.4 L1554.8 1428.3 L1573.5 1428.3 L1592.2 1427.9 L1610.9 1427.4 L1629.7 1425.5 L1648.4 1426.7 L1667.1 1424.7 L1685.8 1426.0 L1704.6 1426.4 L1723.3 1423.6 L1742.0 1423.5 L1760.7 1425.0 L1779.5 1427.0 L1798.2 1427.3 L1816.9 1427.8 L1835.6 1428.7 L1854.4 1432.5 L1873.1 1432.8 L1891.8 1434.6 L1910.5 1434.2 L1929.3 1435.1 L1948.0 1436.9 L1966.7 1435.4 L1985.4 1436.9 L2004.2 1437.0 L2022.9 1438.5 L2041.6 1438.9 L2060.3 1437.7 L2079.1 1439.2 L2097.8 1438.8 L2116.5 1437.0 L2135.2 1435.8 L2154.0 1436.9 L2172.7 1437.6 L2191.4 1437.6 L2210.1 1437.3 L2228.9 1438.0 L2247.6 1438.4 L2266.3 1440.4 L2285.0 1438.9 L2303.8 1440.4 L2322.5 1441.4 L2341.2 1439.2 L2359.9 1440.0 L2378.7 1439.3 L2397.4 1439.0 L2416.1 1436.4 L2434.8 1434.7 L2453.6 1433.6 L2472.3 1434.9 L2491.0 1434.5 L2509.7 1433.7 L2528.5 1433.7 L2547.2 1433.5 L2565.9 1433.0 L2584.6 1433.2 L2603.4 1436.1 L2622.1 1436.2 L2640.8 1438.5 L2659.5 1437.7 L2678.3 1437.1 L2697.0 1437.6 L2715.7 1437.0 L2734.4 1437.3 L2753.2 1439.7 L2771.9 1441.0 L2790.6 1441.7 L2809.3 1441.7 L2828.1 1442.6 L2846.8 1443.3 L2865.5 1442.4 L2884.2 1442.4 L2903.0 1440.3 L2921.7 1441.5 L2940.4 1441.5 L2959.1 1442.6 L2977.9 1443.1 L2996.6 1442.3 L3015.3 1441.1 L3034.0 1443.3 L3052.8 1441.9 L3071.5 1442.0 L3090.2 1441.4 L3108.9 1440.4 L3127.7 1440.9 L3146.4 1441.5 L3165.1 1439.1 L3183.8 1438.8 L3202.6 1437.2 L3221.3 1437.1 L3240.0 1436.6"/>
<path d="M450.0 1460.8 L468.7 1460.3 L487.4 1460.4 L506.2 1463.2 L524.9 1463.9 L543.6 1463.8 L562.3 1466.3 L581.1 1468.3 L599.8 1467.6 L618.5 1466.1 L637.2 1465.3 L656.0 1464.5 L674.7 1464.8 L693.4 1464.2 L712.1 1464.3 L730.9 1464.5 L749.6 1465.6 L768.3 1467.3 L787.0 1467.9 L805.8 1467.1 L824.5 1466.4 L843.2 1465.6 L861.9 1463.8 L880.7 1461.8 L899.4 1458.8 L918.1 1457.0 L936.8 1457.6 L955.6 1454.9 L974.3 1454.5 L993.0 1454.8 L1011.7 1456.0 L1030.5 1454.3 L1049.2 1453.4 L1067.9 1452.6 L1086.6 1452.4 L1105.4 1452.3 L1124.1 1453.9 L1142.8 1454.4 L1161.5 1454.7 L1180.3 1452.2 L1199.0 1450.7 L1217.7 1452.1 L1236.4 1453.5 L1255.2 1453.0 L1273.9 1453.0 L1292.6 1451.1 L1311.3 1451.3 L1330.1 1453.1 L1348.8 1453.9 L1367.5 1454.5 L1386.2 1454.8 L1405.0 1451.8 L1423.7 1448.4 L1442.4 1445.4 L1461.1 1443.7 L1479.9 1442.3 L1498.6 1441.6 L1517.3 1440.0 L1536.0 1438.8 L1554.8 1438.7 L1573.5 1437.9 L1592.2 1438.0 L1610.9 1436.5 L1629.7 1438.4 L1648.4 1438.0 L1667.1 1440.2 L1685.8 1440.8 L1704.6 1440.1 L1723.3 1439.1 L1742.0 1438.9 L1760.7 1440.1 L1779.5 1441.2 L1798.2 1440.1 L1816.9 1439.6 L1835.6 1441.1 L1854.4 1442.4 L1873.1 1442.7 L1891.8 1442.4 L1910.5 1443.5 L1929.3 1442.2 L1948.0 1442.2 L1966.7 1442.7 L1985.4 1444.6 L2004.2 1444.6 L2022.9 1445.3 L2041.6 1444.3 L2060.3 1442.8 L2079.1 1442.0 L2097.8 1443.8 L2116.5 1444.1 L2135.2 1443.2 L2154.0 1442.2 L2172.7 1443.9 L2191.4 1446.2 L2210.1 1447.4 L2228.9 1448.1 L2247.6 1450.4 L2266.3 1452.9 L2285.0 1452.1 L2303.8 1450.8 L2322.5 1450.7 L2341.2 1450.3 L2359.9 1450.3 L2378.7 1448.0 L2397.4 1448.0 L2416.1 1447.2 L2434.8 1445.4 L2453.6 1443.2 L2472.3 1444.3 L2491.0 1442.9 L2509.7 1444.2 L2528.5 1443.7 L2547.2 1444.0 L2565.9 1446.8 L2584.6 1447.7 L2603.4 1451.0 L2622.1 1452.1 L2640.8 1451.9 L2659.5 1452.0 L2678.3 1452.5 L2697.0 1453.5 L2715.7 1454.9 L2734.4 1453.0 L2753.2 1452.6 L2771.9 1451.7 L2790.6 1453.6 L2809.3 1451.9 L2828.1 1450.6 L2846.8 1449.8 L2865.5 1450.5 L2884.2 1452.3 L2903.0 1452.9 L2921.7 1452.0 L2940.4 1451.7 L2959.1 1450.6 L2977.9 1447.4 L2996.6 1444.5 L3015.3 1445.0 L3034.0 1444.7 L3052.8 1442.2 L3071.5 1443.0 L3090.2 1442.3 L3108.9 1441.8 L3127.7 1441.1 L3146.4 1440.0 L3165.1 1438.6 L3183.8 1438.6 L3202.6 1438.8 L3221.3 1440.9 L3240.0 1439.5"/>
<path d="M450.0 1471.8 L468.7 1470.4 L487.4 1470.6 L506.2 1472.8 L524.9 1474.7 L543.6 1475.1 L562.3 1474.5 L581.1 1475.8 L599.8 1476.3 L618.5 1478.3 L637.2 1476.8 L656.0 1476.4 L674.7 1477.8 L693.4 1475.5 L712.1 1475.3 L730.9 1476.3 L749.6 1476.7 L768.3 1474.4 L787.0 1473.0 L805.8 1472.3 L824.5 1475.0 L843.2 1474.9 L861.9 1477.0 L880.7 1479.4 L899.4 1479.5 L918.1 1479.9 L936.8 1482.8 L955.6 1483.6 L974.3 1483.0 L993.0 1484.0 L1011.7 1482.8 L1030.5 1481.4 L1049.2 1478.9 L1067.9 1479.2 L1086.6 1479.1 L1105.4 1477.4 L1124.1 1477.0 L1142.8 1473.3 L1161.5 1471.8 L1180.3 1471.9 L1199.0 1473.8 L1217.7 1475.2 L1236.4 1474.5 L1255.2 1474.0 L1273.9 1474.6 L1292.6 1475.5 L1311.3 1477.7 L1330.1 1476.6 L1348.8 1478.1 L1367.5 1478.7 L1386.2 1478.9 L1405.0 1477.9 L1423.7 1475.8 L1442.4 1472.4 L1461.1 1469.3 L1479.9 1466.6 L1498.6 1465.6 L1517.3 1462.3 L1536.0 1460.6 L1554.8 1461.8 L1573.5 1461.0 L1592.2 1460.1 L1610.9 1459.6 L1629.7 1461.2 L1648.4 1461.6 L1667.1 1464.2 L1685.8 1465.5 L1704.6 1466.7 L1723.3 1465.0 L1742.0 1463.4 L1760.7 1462.2 L1779.5 1462.2 L1798.2 1462.3 L1816.9 1460.8 L1835.6 1458.5 L1854.4 1457.2 L1873.1 1456.6 L1891.8 1456.2 L1910.5 1456.1 L1929.3 1456.6 L1948.0 1456.6 L1966.7 1455.4 L1985.4 1457.7 L2004.2 1457.9 L2022.9 1459.7 L2041.6 1460.7 L2060.3 1462.9 L2079.1 1462.7 L2097.8 1462.8 L2116.5 1462.7 L2135.2 1462.4 L2154.0 1465.1 L2172.7 1466.3 L2191.4 1466.7 L2210.1 1467.9 L2228.9 1471.0 L2247.6 1471.7 L2266.3 1471.4 L2285.0 1473.2 L2303.8 1473.6 L2322.5 1475.0 L2341.2 1473.1 L2359.9 1473.5 L2378.7 1475.3 L2397.4 1476.7 L2416.1 1478.2 L2434.8 1476.3 L2453.6 1476.2 L2472.3 1475.6 L2491.0 1475.3 L2509.7 1477.7 L2528.5 1477.7 L2547.2 1478.9 L2565.9 1477.6 L2584.6 1478.4 L2603.4 1477.4 L2622.1 1476.1 L2640.8 1477.0 L2659.5 1478.1 L2678.3 1476.0 L2697.0 1476.5 L2715.7 1477.2 L2734.4 1476.6 L2753.2 1477.0 L2771.9 1476.9 L2790.6 1477.3 L2809.3 1478.0 L2828.1 1479.6 L2846.8 1480.8 L2865.5 1480.0 L2884.2 1478.5 L2903.0 1478.2 L2921.7 1478.7 L2940.4 1476.7 L2959.1 1475.3 L2977.9 1473.6 L2996.6 1474.2 L3015.3 1473.5 L3034.0 1471.4 L3052.8 1470.4 L3071.5 1470.9 L3090.2 1471.6 L3108.9 1472.1 L3127.7 1470.4 L3146.4 1469.5 L3165.1 1470.5 L3183.8 1470.1 L3202.6 1469.4 L3221.3 1469.0 L3240.0 1471.0"/>
<path d="M450.0 1475.6 L468.7 1476.0 L487.4 1475.6 L506.2 1475.6 L524.9 1477.0 L543.6 1478.4 L562.3 1477.0 L581.1 1475.7 L599.8 1476.6 L618.5 1475.5 L637.2 1474.2 L656.0 1476.6 L674.7 1476.7 L693.4 1478.4 L712.1 1478.2 L730.9 1480.0 L749.6 1479.8 L768.3 1478.7 L787.0 1477.6 L805.8 1478.7 L824.5 1479.7 L843.2 1481.5 L861.9 1480.1 L880.7 1481.4 L899.4 1481.7 L918.1 1482.7 L936.8 1482.2 L955.6 1482.6 L974.3 1483.6 L993.0 1485.4 L1011.7 1483.6 L1030.5 1483.2 L1049.2 1483.5 L1067.9 1483.6 L1086.6 1480.5 L1105.4 1477.9 L1124.1 1478.7 L1142.8 1479.0 L1161.5 1477.6 L1180.3 1475.4 L1199.0 1477.3 L1217.7 1476.8 L1236.4 1478.6 L1255.2 1479.1 L1273.9 1480.4 L1292.6 1479.3 L1311.3 1480.9 L1330.1 1480.1 L1348.8 1480.3 L1367.5 1481.8 L1386.2 1482.3 L1405.0 1479.9 L1423.7 1478.0 L1442.4 1476.7 L1461.1 1475.7 L1479.9 1474.0 L1498.6 1471.7 L1517.3 1470.5 L1536.0 1471.3 L1554.8 1472.5 L1573.5 1470.5 L1592.2 1470.9 L1610.9 1471.6 L1629.7 1469.5 L1648.4 1470.7 L1667.1 1468.9 L1685.8 1469.3 L1704.6 1469.3 L1723.3 1469.5 L1742.0 1468.7 L1760.7 1468.3 L1779.5 1468.1 L1798.2 1466.8 L1816.9 1466.1 L1835.6 1464.3 L1854.4 1462.6 L1873.1 1459.8 L1891.8 1459.8 L1910.5 1459.3 L1929.3 1458.4 L1948.0 1460.0 L1966.7 1461.7 L1985.4 1462.5 L2004.2 1462.9 L2022.9 1464.9 L2041.6 1465.7 L2060.3 1466.8 L2079.1 1468.7 L2097.8 1468.8 L2116.5 1469.9 L2135.2 1470.7 L2154.0 1469.9 L2172.7 1471.9 L2191.4 1471.6 L2210.1 1474.1 L2228.9 1476.0 L2247.6 1476.6 L2266.3 1475.6 L2285.0 1476.5 L2303.8 1476.5 L2322.5 1478.6 L2341.2 1477.6 L2359.9 1479.9 L2378.7 1482.4 L2397.4 1483.6 L2416.1 1485.1 L2434.8 1484.3 L2453.6 1486.7 L2472.3 1486.6 L2491.0 1487.9 L2509.7 1488.5 L2528.5 1486.4 L2547.2 1487.5 L2565.9 1488.7 L2584.6 1486.8 L2603.4 1486.7 L2622.1 1488.1 L2640.8 1487.0 L2659.5 1488.9 L2678.3 1487.8 L2697.0 1488.9 L2715.7 1487.2 L2734.4 1487.2 L2753.2 1488.4 L2771.9 1486.6 L2790.6 1485.6 L2809.3 1485.7 L2828.1 1485.0 L2846.8 1483.7 L2865.5 1483.4 L2884.2 1483.0 L2903.0 1485.0 L2921.7 1484.8 L2940.4 1484.9 L2959.1 1482.0 L2977.9 1481.9 L2996.6 1479.3 L3015.3 1478.9 L3034.0 1479.0 L3052.8 1478.3 L3071.5 1479.6 L3090.2 1479.3 L3108.9 1479.1 L3127.7 1479.9 L3146.4 1477.7 L3165.1 1479.3 L3183.8 1478.9 L3202.6 1477.9 L3221.3 1478.7 L3240.0 1477.3"/>
<path d="M450.0 1485.0 L468.7 1484.6 L487.4 1483.6 L506.2 1484.4 L524.9 1483.8 L543.6 1482.5 L562.3 1483.7 L581.1 1482.0 L599.8 1483.6 L618.5 1482.7 L637.2 1483.4 L656.0 1484.9 L674.7 1484.4 L693.4 1484.2 L712.1 1482.9 L730.9 1481.0 L749.6 1479.9 L768.3 1479.6 L787.0 1481.0 L805.8 1481.2 L824.5 1481.7 L843.2 1483.5 L861.9 1482.3 L880.7 1482.1 L899.4 1483.7 L918.1 1482.7 L936.8 1482.3 L955.6 1483.3 L974.3 1483.1 L993.0 1483.7 L1011.7 1483.5 L1030.5 1484.5 L1049.2 1484.9 L1067.9 1483.7 L1086.6 1484.2 L1105.4 1483.9 L1124.1 1482.5 L1142.8 1484.2 L1161.5 1482.9 L1180.3 1481.9 L1199.0 1481.1 L1217.7 1482.6 L1236.4 1484.3 L1255.2 1485.1 L1273.9 1484.4 L1292.6 1483.6 L1311.3 1482.4 L1330.1 1483.7 L1348.8 1484.3 L1367.5 1483.9 L1386.2 1484.4 L1405.0 1483.5 L1423.7 1483.9 L1442.4 1482.8 L1461.1 1479.9 L1479.9 1479.7 L1498.6 1476.3 L1517.3 1475.6 L1536.0 1474.7 L1554.8 1473.8 L1573.5 1472.7 L1592.2 1474.3 L1610.9 1472.4 L1629.7 1472.8 L1648.4 1474.1 L1667.1 1472.0 L1685.8 1470.8 L1704.6 1471.3 L1723.3 1471.3 L1742.0 1471.7 L1760.7 1472.5 L1779.5 1470.4 L1798.2 1469.1 L1816.9 1467.8 L1835.6 1465.6 L1854.4 1466.7 L1873.1 1466.7 L1891.8 1466.2 L1910.5 1463.6 L1929.3 1464.9 L1948.0 1465.8 L1966.7 1466.2 L1985.4 1468.4 L2004.2 1469.8 L2022.9 1470.8 L2041.6 1472.0 L2060.3 1473.7 L2079.1 1474.5 L2097.8 1476.1 L2116.5 1478.1 L2135.2 1478.9 L2154.0 1479.9 L2172.7 1480.1 L2191.4 1478.7 L2210.1 1478.8 L2228.9 1478.5 L2247.6 1479.5 L2266.3 1479.2 L2285.0 1478.2 L2303.8 1478.8 L2322.5 1480.6 L2341.2 1480.0 L2359.9 1482.8 L2378.7 1482.7 L2397.4 1484.4 L2416.1 1486.3 L2434.8 1489.7 L2453.6 1492.9 L2472.3 1494.2 L2491.0 1493.3 L2509.7 1494.3 L2528.5 1493.0 L2547.2 1491.7 L2565.9 1493.0 L2584.6 1492.7 L2603.4 1492.5 L2622.1 1492.3 L2640.8 1493.1 L2659.5 1491.9 L2678.3 1492.4 L2697.0 1492.3 L2715.7 1492.8 L2734.4 1491.6 L2753.2 1491.9 L2771.9 1491.6 L2790.6 1490.5 L2809.3 1489.5 L2828.1 1490.3 L2846.8 1489.0 L2865.5 1490.9 L2884.2 1489.4 L2903.0 1487.6 L2921.7 1486.2 L2940.4 1487.5 L2959.1 1485.7 L2977.9 1483.5 L2996.6 1481.4 L3015.3 1479.9 L3034.0 1481.2 L3052.8 1481.9 L3071.5 1482.6 L3090.2 1483.2 L3108.9 1481.3 L3127.7 1482.0 L3146.4 1481.6 L3165.1 1482.9 L3183.8 1483.6 L3202.6 1484.3 L3221.3 1482.0 L3240.0 1483.3"/>
<path d="M450.0 1491.9 L468.7 1492.5 L487.4 1489.4 L506.2 1487.2 L524.9 1484.7 L543.6 1482.2 L562.3 1482.9 L581.1 1482.8 L599.8 1482.2 L618.5 1482.6 L637.2 1482.4 L656.0 1481.3 L674.7 1480.2 L693.4 1479.7 L712.1 1481.7 L730.9 1481.3 L749.6 1481.5 L768.3 1482.1 L787.0 1481.0 L805.8 1481.2 L824.5 1481.4 L843.2 1483.3 L861.9 1483.6 L880.7 1483.9 L899.4 1486.6 L918.1 1487.0 L936.8 1488.6 L955.6 1488.9 L974.3 1487.2 L993.0 1487.3 L1011.7 1487.4 L1030.5 1488.4 L1049.2 1487.4 L1067.9 1487.8 L1086.6 1487.4 L1105.4 1485.9 L1124.1 1487.0 L1142.8 1485.1 L1161.5 1486.3 L1180.3 1484.9 L1199.0 1483.5 L1217.7 1483.2 L1236.4 1484.7 L1255.2 1486.2 L1273.9 1483.7 L1292.6 1483.6 L1311.3 1483.5 L1330.1 1484.3 L1348.8 1482.8 L1367.5 1483.0 L1386.2 1482.5 L1405.0 1483.5 L1423.7 1482.0 L1442.4 1482.9 L1461.1 1481.0 L1479.9 1479.3 L1498.6 1479.7 L1517.3 1479.1 L1536.0 1477.4 L1554.8 1478.3 L1573.5 1477.0 L1592.2 1478.5 L1610.9 1479.0 L1629.7 1479.5 L1648.4 1479.2 L1667.1 1478.1 L1685.8 1477.5 L1704.6 1477.0 L1723.3 1478.4 L1742.0 1476.6 L1760.7 1478.4 L1779.5 1476.9 L1798.2 1477.0 L1816.9 1477.7 L1835.6 1480.6 L1854.4 1481.4 L1873.1 1481.8 L1891.8 1483.9 L1910.5 1483.0 L1929.3 1483.1 L1948.0 1483.3 L1966.7 1484.3 L1985.4 1484.9 L2004.2 1485.0 L2022.9 1484.2 L2041.6 1483.7 L2060.3 1482.9 L2079.1 1484.7 L2097.8 1485.2 L2116.5 1485.8 L2135.2 1484.1 L2154.0 1483.9 L2172.7 1484.7 L2191.4 1484.4 L2210.1 1482.5 L2228.9 1482.3 L2247.6 1483.5 L2266.3 1482.0 L2285.0 1481.0 L2303.8 1480.7 L2322.5 1482.3 L2341.2 1484.4 L2359.9 1484.3 L2378.7 1485.2 L2397.4 1487.0 L2416.1 1489.1 L2434.8 1491.6 L2453.6 1492.3 L2472.3 1493.3 L2491.0 1493.3 L2509.7 1495.7 L2528.5 1496.4 L2547.2 1494.8 L2565.9 1496.8 L2584.6 1495.2 L2603.4 1495.2 L2622.1 1497.3 L2640.8 1498.0 L2659.5 1498.2 L2678.3 1497.3 L2697.0 1495.9 L2715.7 1496.5 L2734.4 1495.0 L2753.2 1494.3 L2771.9 1494.4 L2790.6 1493.3 L2809.3 1493.7 L2828.1 1495.3 L2846.8 1495.9 L2865.5 1495.6 L2884.2 1495.6 L2903.0 1494.5 L2921.7 1492.0 L2940.4 1491.3 L2959.1 1489.4 L2977.9 1488.7 L2996.6 1488.4 L3015.3 1486.3 L3034.0 1485.5 L3052.8 1485.8 L3071.5 1485.2 L3090.2 1484.5 L3108.9 1486.1 L3127.7 1488.1 L3146.4 1489.3 L3165.1 1490.2 L3183.8 1491.5 L3202.6 1491.8 L3221.3 1492.0 L3240.0 1491.3"/>
</g>
<g stroke="#808080" stroke-width="4.17" stroke-linecap="square">
<path d="M450.0 1497.1 L468.7 1494.0 L487.4 1496.0 L506.2 1498.1 L524.9 1498.3 L543.6 1494.8 L562.3 1498.8 L581.1 1502.4 L599.8 1501.2 L618.5 1502.4 L637.2 1500.5 L656.0 1498.8 L674.7 1498.1 L693.4 1497.9 L712.1 1497.1 L730.9 1494.0 L749.6 1491.0 L768.3 1490.7 L787.0 1493.3 L805.8 1492.9 L824.5 1494.5 L843.2 1498.8 L861.9 1496.0 L880.7 1496.4 L899.4 1499.3 L918.1 1499.8 L936.8 1500.0 L955.6 1499.0 L974.3 1500.5 L993.0 1501.9 L1011.7 1501.4 L1030.5 1504.8 L1049.2 1502.4 L1067.9 1500.7 L1086.6 1499.5 L1105.4 1505.2 L1124.1 1503.6 L1142.8 1502.9 L1161.5 1503.3 L1180.3 1503.8 L1199.0 1505.5 L1217.7 1505.7 L1236.4 1506.2 L1255.2 1506.4 L1273.9 1507.9 L1292.6 1512.6 L1311.3 1511.4 L1330.1 1515.0 L1348.8 1515.5 L1367.5 1513.8 L1386.2 1513.8 L1405.0 1513.1 L1423.7 1513.6 L1442.4 1514.8 L1461.1 1511.9 L1479.9 1507.1 L1498.6 1507.1 L1517.3 1504.8 L1536.0 1507.6 L1554.8 1508.6 L1573.5 1508.8 L1592.2 1506.0 L1610.9 1508.3 L1629.7 1510.2 L1648.4 1512.6 L1667.1 1511.9 L1685.8 1511.9 L1704.6 1510.2 L1723.3 1509.5 L1742.0 1505.2 L1760.7 1505.2 L1779.5 1509.0 L1798.2 1510.0 L1816.9 1508.3 L1835.6 1506.7 L1854.4 1504.8 L1873.1 1509.5 L1891.8 1508.8 L1910.5 1509.0 L1929.3 1511.9 L1948.0 1511.9 L1966.7 1510.0 L1985.4 1514.3 L2004.2 1516.0 L2022.9 1517.4 L2041.6 1522.6 L2060.3 1520.2 L2079.1 1519.8 L2097.8 1517.4 L2116.5 1516.7 L2135.2 1517.9 L2154.0 1520.2 L2172.7 1520.2 L2191.4 1515.0 L2210.1 1513.8 L2228.9 1511.4 L2247.6 1510.7 L2266.3 1511.4 L2285.0 1514.3 L2303.8 1520.2 L2322.5 1523.3 L2341.2 1523.8 L2359.9 1523.3 L2378.7 1528.6 L2397.4 1530.5 L2416.1 1531.4 L2434.8 1531.0 L2453.6 1529.0 L2472.3 1525.5 L2491.0 1524.5 L2509.7 1524.5 L2528.5 1522.6 L2547.2 1519.0 L2565.9 1513.6 L2584.6 1513.6 L2603.4 1512.6 L2622.1 1517.9 L2640.8 1521.9 L2659.5 1523.3 L2678.3 1525.7 L2697.0 1526.2 L2715.7 1527.9 L2734.4 1528.6 L2753.2 1528.1 L2771.9 1531.0 L2790.6 1532.6 L2809.3 1532.1 L2828.1 1534.5 L2846.8 1536.2 L2865.5 1533.3 L2884.2 1531.0 L2903.0 1529.0 L2921.7 1529.8 L2940.4 1527.9 L2959.1 1527.4 L2977.9 1526.2 L2996.6 1525.0 L3015.3 1527.4 L3034.0 1529.0 L3052.8 1529.3 L3071.5 1529.8 L3090.2 1534.5 L3108.9 1536.4 L3127.7 1542.1 L3146.4 1542.9 L3165.1 1542.4 L3183.8 1540.0 L3202.6 1540.0 L3221.3 1539.3 L3240.0 1538.1"/>
<path d="M450.0 1398.8 L468.7 1392.4 L487.4 1393.6 L506.2 1396.0 L524.9 1397.6 L543.6 1398.3 L562.3 1394.0 L581.1 1394.8 L599.8 1394.5 L618.5 1394.5 L637.2 1389.3 L656.0 1389.8 L674.7 1389.3 L693.4 1392.9 L712.1 1396.0 L730.9 1395.2 L749.6 1395.7 L768.3 1392.4 L787.0 1390.5 L805.8 1389.5 L824.5 1391.2 L843.2 1391.7 L861.9 1389.3 L880.7 1391.0 L899.4 1391.4 L918.1 1390.7 L936.8 1390.7 L955.6 1390.7 L974.3 1393.3 L993.0 1396.0 L1011.7 1395.5 L1030.5 1397.6 L1049.2 1397.1 L1067.9 1392.9 L1086.6 1395.2 L1105.4 1397.1 L1124.1 1398.3 L1142.8 1395.7 L1161.5 1396.9 L1180.3 1395.2 L1199.0 1394.5 L1217.7 1390.5 L1236.4 1392.9 L1255.2 1396.0 L1273.9 1398.8 L1292.6 1401.7 L1311.3 1401.7 L1330.1 1400.0 L1348.8 1401.2 L1367.5 1402.4 L1386.2 1403.6 L1405.0 1398.8 L1423.7 1400.0 L1442.4 1397.6 L1461.1 1396.4 L1479.9 1396.0 L1498.6 1394.8 L1517.3 1391.2 L1536.0 1391.7 L1554.8 1392.1 L1573.5 1392.1 L1592.2 1394.0 L1610.9 1389.3 L1629.7 1391.7 L1648.4 1392.1 L1667.1 1389.8 L1685.8 1389.3 L1704.6 1390.7 L1723.3 1391.2 L1742.0 1392.9 L1760.7 1391.9 L1779.5 1389.3 L1798.2 1392.9 L1816.9 1392.4 L1835.6 1391.7 L1854.4 1391.0 L1873.1 1391.7 L1891.8 1390.5 L1910.5 1392.1 L1929.3 1392.9 L1948.0 1392.9 L1966.7 1393.3 L1985.4 1393.3 L2004.2 1391.7 L2022.9 1394.0 L2041.6 1395.2 L2060.3 1398.1 L2079.1 1396.9 L2097.8 1394.0 L2116.5 1392.4 L2135.2 1394.0 L2154.0 1395.2 L2172.7 1396.4 L2191.4 1400.0 L2210.1 1401.7 L2228.9 1402.4 L2247.6 1400.0 L2266.3 1399.5 L2285.0 1398.3 L2303.8 1401.2 L2322.5 1400.7 L2341.2 1402.9 L2359.9 1403.1 L2378.7 1405.5 L2397.4 1406.7 L2416.1 1409.0 L2434.8 1411.9 L2453.6 1410.7 L2472.3 1413.1 L2491.0 1410.2 L2509.7 1410.7 L2528.5 1412.6 L2547.2 1407.6 L2565.9 1407.9 L2584.6 1410.0 L2603.4 1410.0 L2622.1 1411.2 L2640.8 1410.7 L2659.5 1410.7 L2678.3 1412.4 L2697.0 1413.1 L2715.7 1413.8 L2734.4 1412.6 L2753.2 1416.0 L2771.9 1417.9 L2790.6 1416.0 L2809.3 1417.4 L2828.1 1417.9 L2846.8 1418.3 L2865.5 1417.9 L2884.2 1416.2 L2903.0 1417.9 L2921.7 1419.8 L2940.4 1417.9 L2959.1 1419.8 L2977.9 1418.3 L2996.6 1417.4 L3015.3 1419.0 L3034.0 1418.3 L3052.8 1416.7 L3071.5 1418.3 L3090.2 1418.6 L3108.9 1417.4 L3127.7 1415.0 L3146.4 1413.1 L3165.1 1411.2 L3183.8 1412.4 L3202.6 1413.8 L3221.3 1414.3 L3240.0 1417.4"/>
</g>
<path d="M450.0 1458.3 L468.7 1457.1 L487.4 1456.0 L506.2 1451.2 L524.9 1450.5 L543.6 1452.9 L562.3 1453.6 L581.1 1452.4 L599.8 1451.0 L618.5 1451.0 L637.2 1451.0 L656.0 1451.0 L674.7 1450.0 L693.4 1449.0 L712.1 1449.0 L730.9 1450.0 L749.6 1450.5 L768.3 1449.5 L787.0 1446.2 L805.8 1444.5 L824.5 1442.1 L843.2 1443.3 L861.9 1443.6 L880.7 1445.2 L899.4 1446.4 L918.1 1446.2 L936.8 1444.8 L955.6 1443.8 L974.3 1443.6 L993.0 1442.9 L1011.7 1442.9 L1030.5 1447.6 L1049.2 1446.9 L1067.9 1445.2 L1086.6 1448.1 L1105.4 1444.8 L1124.1 1445.7 L1142.8 1445.7 L1161.5 1445.7 L1180.3 1445.2 L1199.0 1442.9 L1217.7 1441.0 L1236.4 1440.0 L1255.2 1442.9 L1273.9 1444.3 L1292.6 1445.2 L1311.3 1445.7 L1330.1 1445.7 L1348.8 1446.4 L1367.5 1445.7 L1386.2 1446.7 L1405.0 1446.7 L1423.7 1445.7 L1442.4 1444.0 L1461.1 1443.6 L1479.9 1443.6 L1498.6 1443.6 L1517.3 1444.0 L1536.0 1444.0 L1554.8 1443.8 L1573.5 1443.6 L1592.2 1443.8 L1610.9 1446.9 L1629.7 1444.0 L1648.4 1442.9 L1667.1 1440.5 L1685.8 1439.3 L1704.6 1439.8 L1723.3 1439.8 L1742.0 1443.6 L1760.7 1444.0 L1779.5 1446.4 L1798.2 1450.0 L1816.9 1448.1 L1835.6 1448.8 L1854.4 1448.8 L1873.1 1447.6 L1891.8 1448.8 L1910.5 1447.6 L1929.3 1448.3 L1948.0 1448.8 L1966.7 1448.8 L1985.4 1448.1 L2004.2 1447.1 L2022.9 1450.0 L2041.6 1448.8 L2060.3 1449.3 L2079.1 1448.8 L2097.8 1447.6 L2116.5 1449.5 L2135.2 1448.8 L2154.0 1446.9 L2172.7 1443.6 L2191.4 1444.0 L2210.1 1445.2 L2228.9 1446.0 L2247.6 1446.0 L2266.3 1446.0 L2285.0 1445.2 L2303.8 1444.5 L2322.5 1446.9 L2341.2 1446.4 L2359.9 1444.8 L2378.7 1443.6 L2397.4 1442.9 L2416.1 1438.1 L2434.8 1435.7 L2453.6 1435.0 L2472.3 1436.4 L2491.0 1437.4 L2509.7 1438.1 L2528.5 1438.8 L2547.2 1440.0 L2565.9 1441.0 L2584.6 1439.8 L2603.4 1441.2 L2622.1 1443.6 L2640.8 1443.6 L2659.5 1445.7 L2678.3 1446.4 L2697.0 1446.4 L2715.7 1445.7 L2734.4 1445.2 L2753.2 1445.7 L2771.9 1446.9 L2790.6 1446.7 L2809.3 1446.4 L2828.1 1447.6 L2846.8 1448.3 L2865.5 1448.8 L2884.2 1446.9 L2903.0 1445.7 L2921.7 1445.2 L2940.4 1447.6 L2959.1 1447.1 L2977.9 1449.3 L2996.6 1450.0 L3015.3 1451.9 L3034.0 1450.0 L3052.8 1448.1 L3071.5 1448.3 L3090.2 1448.8 L3108.9 1448.3 L3127.7 1447.1 L3146.4 1449.3 L3165.1 1448.3 L3183.8 1446.4 L3202.6 1444.5 L3221.3 1441.7 L3240.0 1438.1" stroke="#000" stroke-width="8.33" stroke-linecap="square"/>
<path d="M730.9 1407.1 L749.6 1402.6 L768.3 1406.7 L787.0 1404.3 L805.8 1409.0 L824.5 1407.9 L843.2 1404.8 L861.9 1410.2 L880.7 1414.5 L899.4 1413.8 L918.1 1417.4 L936.8 1420.5 L955.6 1421.7 L974.3 1424.5 L993.0 1428.1 L1011.7 1423.3 L1030.5 1419.8 L1049.2 1419.0 L1067.9 1423.3 L1086.6 1419.8 L1105.4 1418.6 L1124.1 1422.6 L1142.8 1423.3 L1161.5 1426.9 L1180.3 1426.9 L1199.0 1428.1 L1217.7 1426.4 L1236.4 1424.5 L1255.2 1430.5 L1273.9 1435.2 L1292.6 1437.6 L1311.3 1442.9 L1330.1 1440.7 L1348.8 1444.8 L1367.5 1441.7 L1386.2 1441.7 L1405.0 1441.2 L1423.7 1441.2 L1442.4 1441.2 L1461.1 1441.2 L1479.9 1441.2 L1498.6 1436.4 L1517.3 1435.2 L1536.0 1428.1" stroke="#008000" stroke-width="12.5" stroke-linecap="square"/>
</g>
<g stroke="#000" stroke-width="2" stroke-dasharray="4.167 12.5" fill="none">
<path d="M450 1566 H3240"/>
<path d="M450 1295 H3240"/>
<path d="M450 1024 H3240"/>
<path d="M450 752 H3240"/>
<path d="M450 481 H3240"/>
<path d="M619 1837.5 V210"/>
<path d="M993 1837.5 V210"/>
<path d="M1368 1837.5 V210"/>
<path d="M1742 1837.5 V210"/>
<path d="M2117 1837.5 V210"/>
<path d="M2491 1837.5 V210"/>
<path d="M2866 1837.5 V210"/>
</g>
<g stroke="#000" stroke-width="2" fill="none">
<path d="M450 1566 h16.67 M3240 1566 h-16.67"/>
<path d="M450 1295 h16.67 M3240 1295 h-16.67"/>
<path d="M450 1024 h16.67 M3240 1024 h-16.67"/>
<path d="M450 752 h16.67 M3240 752 h-16.67"/>
<path d="M450 481 h16.67 M3240 481 h-16.67"/>
<path d="M619 1837.5 v-16.67 M619 210 v16.67"/>
<path d="M993 1837.5 v-16.67 M993 210 v16.67"/>
<path d="M1368 1837.5 v-16.67 M1368 210 v16.67"/>
<path d="M1742 1837.5 v-16.67 M1742 210 v16.67"/>
<path d="M2117 1837.5 v-16.67 M2117 210 v16.67"/>
<path d="M2491 1837.5 v-16.67 M2491 210 v16.67"/>
<path d="M2866 1837.5 v-16.67 M2866 210 v16.67"/>
</g>
<rect x="450" y="210" width="2790" height="1628" fill="none" stroke="#000" stroke-width="4.17"/>
<g font-size="56.25" text-anchor="middle" letter-spacing="0.9">
<text x="619.0" y="1895.2">1960</text>
<text x="993.5" y="1895.2">1980</text>
<text x="1368.0" y="1895.2">2000</text>
<text x="1742.5" y="1895.2">2020</text>
<text x="2117.0" y="1895.2">2040</text>
<text x="2491.5" y="1895.2">2060</text>
<text x="2866.0" y="1895.2">2080</text>
<text x="3240.4" y="1895.2">2100</text>
</g>
<g font-size="56.25" text-anchor="end" letter-spacing="0.9">
<text x="433.5" y="1851.7">0</text>
<text x="433.5" y="1580.7">50</text>
<text x="433.5" y="1310.3">100</text>
<text x="433.5" y="1038.2">150</text>
<text x="433.5" y="766.9">200</text>
<text x="433.5" y="495.9">250</text>
<text x="433.5" y="223.9">300</text>
</g>
<text x="1844.5" y="189.4" font-size="70" text-anchor="middle" letter-spacing="-0.1">Priekuļi.Mar</text>
<text x="1845" y="1968.1" font-size="58.33" text-anchor="middle">Gads</text>
<g transform="translate(306.5 1585.3) rotate(-90)" font-size="58.33">
<text id="yl" x="0" y="0">Saules radiācija uz horizontālas virsmas,</text>
<text id="ysl" font-size="84" stroke="#fff" stroke-width="1.5" transform="translate(1020.4 12.5)">/</text>
<text id="yW" font-style="italic" transform="translate(961.6 0) scale(1.2 1)">W</text>
<text id="ym" font-style="italic" transform="translate(1046.2 0) scale(1.17 1)">m</text>
<text id="y2" font-size="40.8" transform="translate(1102 -22.4)">2</text>
</g>
<rect x="2615" y="245" width="590" height="417" fill="#fff" stroke="#000" stroke-width="4"/>
<g fill="none" stroke-linecap="square">
<path d="M2664 298 H2762" stroke="#808080" stroke-width="4"/>
<path d="M2664 397 H2762" stroke="#808080" stroke-width="4"/>
<path d="M2664 496 H2762" stroke="#000" stroke-width="8.2"/>
<path d="M2664 595.3 H2762" stroke="#008000" stroke-width="12.5"/>
</g>
<g font-size="70">
<text x="2839" y="320.9">13%</text>
<text x="2839" y="419.9">87%</text>
<text x="2839" y="519.2">Mediāna</text>
<text x="2839" y="618.5">Novērojumi</text>
</g>
</svg></body></html>
